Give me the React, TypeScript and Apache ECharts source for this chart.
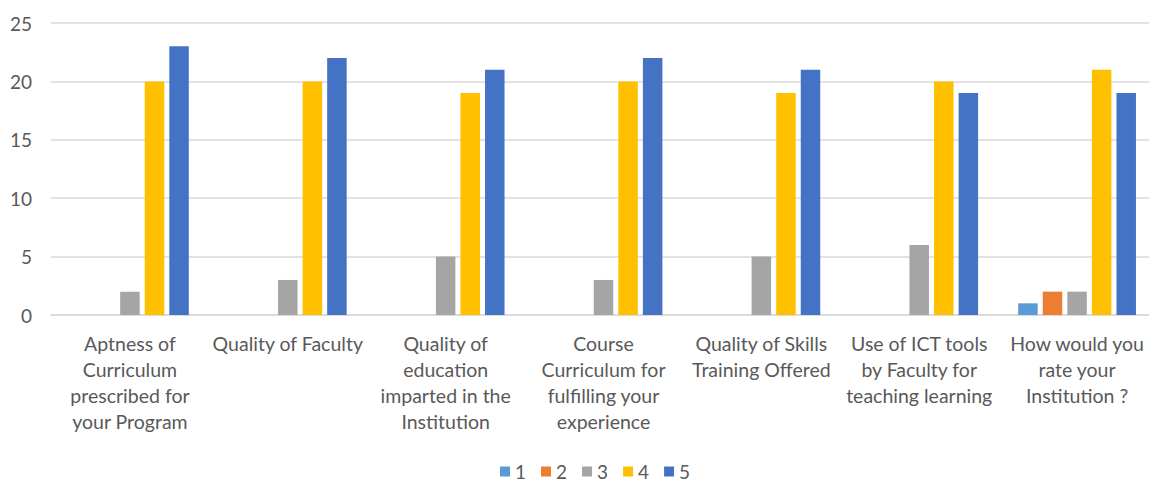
import React, { useEffect, useRef } from "react";
import * as echarts from "echarts";

const categories = [
  "Aptness of\nCurriculum\nprescribed for\nyour Program",
  "Quality of Faculty",
  "Quality of\neducation\nimparted in the\nInstitution",
  "Course\nCurriculum for\nfulfilling your\nexperience",
  "Quality of Skills\nTraining Offered",
  "Use of ICT tools\nby Faculty for\nteaching learning",
  "How would you\nrate your\nInstitution ?",
];
const seriesNames = ["1", "2", "3", "4", "5"];
const s1 = [0, 0, 0, 0, 0, 0, 1];
const s2 = [0, 0, 0, 0, 0, 0, 2];
const s3 = [2, 3, 5, 3, 5, 6, 2];
const s4 = [20, 20, 19, 20, 19, 20, 21];
const s5 = [23, 22, 21, 22, 21, 19, 19];
const colors = ["#5B9BD5", "#ED7D31", "#A5A5A5", "#FFC000", "#4472C4"];

const FONT = "Lato";

export default function App() {
  const ref = useRef<HTMLDivElement>(null);
  useEffect(() => {
    document.body.style.margin = "0";
    document.body.style.overflow = "hidden";
    if (!ref.current) return;
    const chart = echarts.init(ref.current, null, { renderer: "svg" });
    const data = [s1, s2, s3, s4, s5];
    chart.setOption({
      animation: false,
      color: colors,
      grid: {
        left: 51,
        width: 1105,
        top: 23,
        height: 292,
        containLabel: false,
        outerBoundsMode: "none",
      },
      legend: {
        top: 462,
        left: 500,
        padding: 0,
        icon: "rect",
        itemWidth: 10,
        itemHeight: 10,
        itemGap: 15,
        textStyle: { color: "#595959", fontSize: 19, fontFamily: FONT },
        data: seriesNames,
      },
      xAxis: {
        type: "category",
        data: categories,
        axisLine: { show: true, lineStyle: { color: "#d9d9d9", width: 1.5 } },
        axisTick: { show: false },
        axisLabel: {
          interval: 0,
          color: "#595959",
          fontSize: 19.5,
          fontFamily: FONT,
          lineHeight: 26,
          margin: 15,
          align: "center",
        },
      },
      yAxis: {
        type: "value",
        min: 0,
        max: 25,
        interval: 5,
        axisLine: { show: false },
        axisTick: { show: false },
        splitLine: { lineStyle: { color: "#d9d9d9", width: 1.5 } },
        axisLabel: { color: "#595959", fontSize: 19, fontFamily: FONT, margin: 19 },
      },
      series: seriesNames.map((n, i) => ({
        name: n,
        type: "bar",
        data: data[i],
        barWidth: 19.5,
        barGap: "26%",
        itemStyle: { color: colors[i] },
      })),
    });
    return () => chart.dispose();
  }, []);
  return <div ref={ref} style={{ width: 1149, height: 483, overflow: "hidden" }} />;
}
